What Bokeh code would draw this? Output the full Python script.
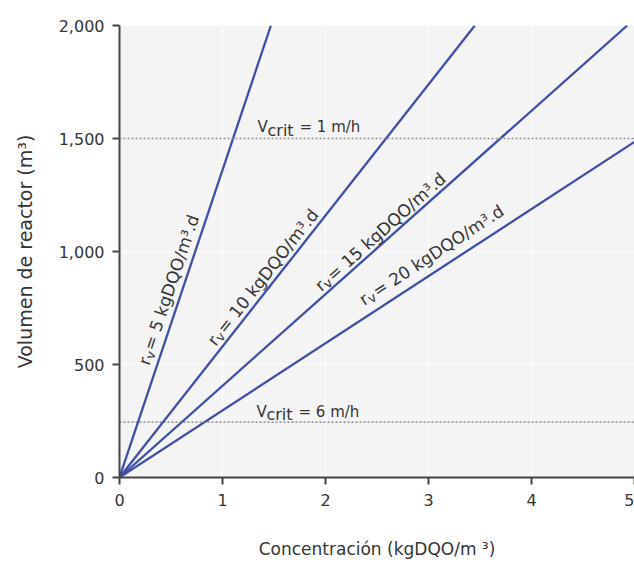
import math
from bokeh.plotting import figure
from bokeh.models import Span, FixedTicker, NumeralTickFormatter, ColumnDataSource
from bokeh.core.properties import value
from bokeh.embed import file_html
from bokeh.resources import INLINE

# ---- data ----
rates = [5, 10, 15, 20]                      # kgDQO/m3.d
conc_end = [1.47, 3.45, 4.93, 5.0]           # concentration at line end
vol_end = [2000, 2000, 2000, 1485]           # volume at line end
rate_rest = ["= %d kgDQO/m\u00b3.d" % r for r in rates]
vcrit_texts = ["= 1 m/h", "= 6 m/h"]
vcrit_volume = [1500, 245]
x_ticks = [0, 1, 2, 3, 4, 5]
y_ticks = [0, 500, 1000, 1500, 2000]

FONT = "DejaVu Sans"
TXT = "#353535"
LINE = "#3d50a6"

FW, FH = 515, 452
XMAX, YMAX = 5, 2000

p = figure(frame_width=FW, frame_height=FH, x_range=(0, XMAX), y_range=(0, YMAX),
           output_backend="svg", toolbar_location=None,
           min_border_left=119, min_border_right=0, min_border_top=25, min_border_bottom=86)

p.background_fill_color = "#f4f4f4"
p.border_fill_color = "white"
p.outline_line_color = None
p.xgrid.grid_line_color = "white"
p.ygrid.grid_line_color = "white"
p.xgrid.grid_line_width = 1
p.ygrid.grid_line_width = 1

p.xaxis.ticker = FixedTicker(ticks=x_ticks)
p.yaxis.ticker = FixedTicker(ticks=y_ticks)
p.yaxis.formatter = NumeralTickFormatter(format="0,0")
for ax in (p.xaxis, p.yaxis):
    ax.axis_line_color = "#444444"
    ax.axis_line_width = 2
    ax.major_tick_line_color = "#444444"
    ax.major_tick_line_width = 2
    ax.major_tick_in = 0
    ax.major_tick_out = 7
    ax.minor_tick_line_color = None
    ax.major_label_text_font = FONT
    ax.major_label_text_font_size = "16px"
    ax.major_label_text_color = TXT
    ax.axis_label_text_font = FONT
    ax.axis_label_text_font_style = "normal"
    ax.axis_label_text_color = TXT
p.xaxis.major_label_standoff = 9
p.yaxis.major_label_standoff = 8
p.xaxis.axis_label = "Concentración (kgDQO/m \u00b3)"
p.xaxis.axis_label_text_font_size = "17px"
p.xaxis.axis_label_standoff = 30
p.yaxis.axis_label = "Volumen de reactor (m\u00b3)"
p.yaxis.axis_label_text_font_size = "19px"
p.yaxis.axis_label_standoff = 20

# critical velocity lines
for v, c in zip(vcrit_volume, ["#8c8c8c", "#707070"]):
    p.add_layout(Span(location=v, dimension="width", line_color=c,
                      line_width=1.4, line_dash="2 2"))

# reactor lines
p.segment(x0=[0] * len(rates), y0=[0] * len(rates), x1=conc_end, y1=vol_end,
          line_color=LINE, line_width=2.3)

# rotated labels "r" + subscript "v" + rest, along each line
LS = 17.0      # label font size
SS = 13.0      # subscript size
EM = {" ": .318, "=": .838, "0": .636, "1": .636, "2": .636, "5": .636, "k": .579,
      "g": .635, "D": .770, "Q": .787, "O": .787, "/": .337, "m": .974,
      "\u00b3": .401, ".": .318, "d": .635}
w_r = .411 * LS
w_v = .592 * SS
px_x = FW / XMAX
px_y = FH / YMAX
label_t = [0.405, 0.427, 0.526, 0.622]   # centre of label along its line
label_d = [13, 11, 10, 16]               # baseline gap above the line, px
cols = {k: [] for k in ("x", "y", "text", "angle", "xo", "yo", "size")}
for xe, ye, rest, t, d in zip(conc_end, vol_end, rate_rest, label_t, label_d):
    a = math.atan2(ye * px_y, xe * px_x)
    llen = math.hypot(xe * px_x, ye * px_y)
    L = w_r + w_v + sum(EM.get(ch, .6) for ch in rest) * LS
    f = (t * llen - L / 2) / llen
    ax_, ay_ = f * xe, f * ye
    ux, uy = math.cos(a), -math.sin(a)
    nx, ny = -math.sin(a), -math.cos(a)
    for txt, along, perp, size in (("r", 0, d, LS), ("v", w_r, d - 3.5, SS),
                                   (rest, w_r + w_v + 1, d, LS)):
        cols["x"].append(ax_)
        cols["y"].append(ay_)
        cols["text"].append(txt)
        cols["angle"].append(a)
        cols["xo"].append(ux * along + nx * perp)
        cols["yo"].append(uy * along + ny * perp)
        cols["size"].append("%gpx" % size)
src = ColumnDataSource(cols)
p.text(x="x", y="y", text="text", angle="angle", x_offset="xo", y_offset="yo",
       text_font_size="size", source=src,
       text_font=value(FONT), text_color=TXT,
       text_align="left", text_baseline="alphabetic")

# Vcrit labels
vx = [1.34, 1.33]
p.text(x=vx, y=vcrit_volume, text=["V", "V"], y_offset=[-12, -10],
       text_font=value(FONT), text_font_size="15px", text_color=TXT,
       text_align="left", text_baseline="alphabetic")
p.text(x=vx, y=vcrit_volume, text=["crit", "crit"], x_offset=10, y_offset=[-8.5, -7.5],
       text_font=value(FONT), text_font_size="16px", text_color=TXT,
       text_align="left", text_baseline="alphabetic")
p.text(x=vx, y=vcrit_volume, text=vcrit_texts, x_offset=42, y_offset=[-12, -10],
       text_font=value(FONT), text_font_size="15px", text_color=TXT,
       text_align="left", text_baseline="alphabetic")

open("out.html", "w").write(file_html(p, INLINE))
